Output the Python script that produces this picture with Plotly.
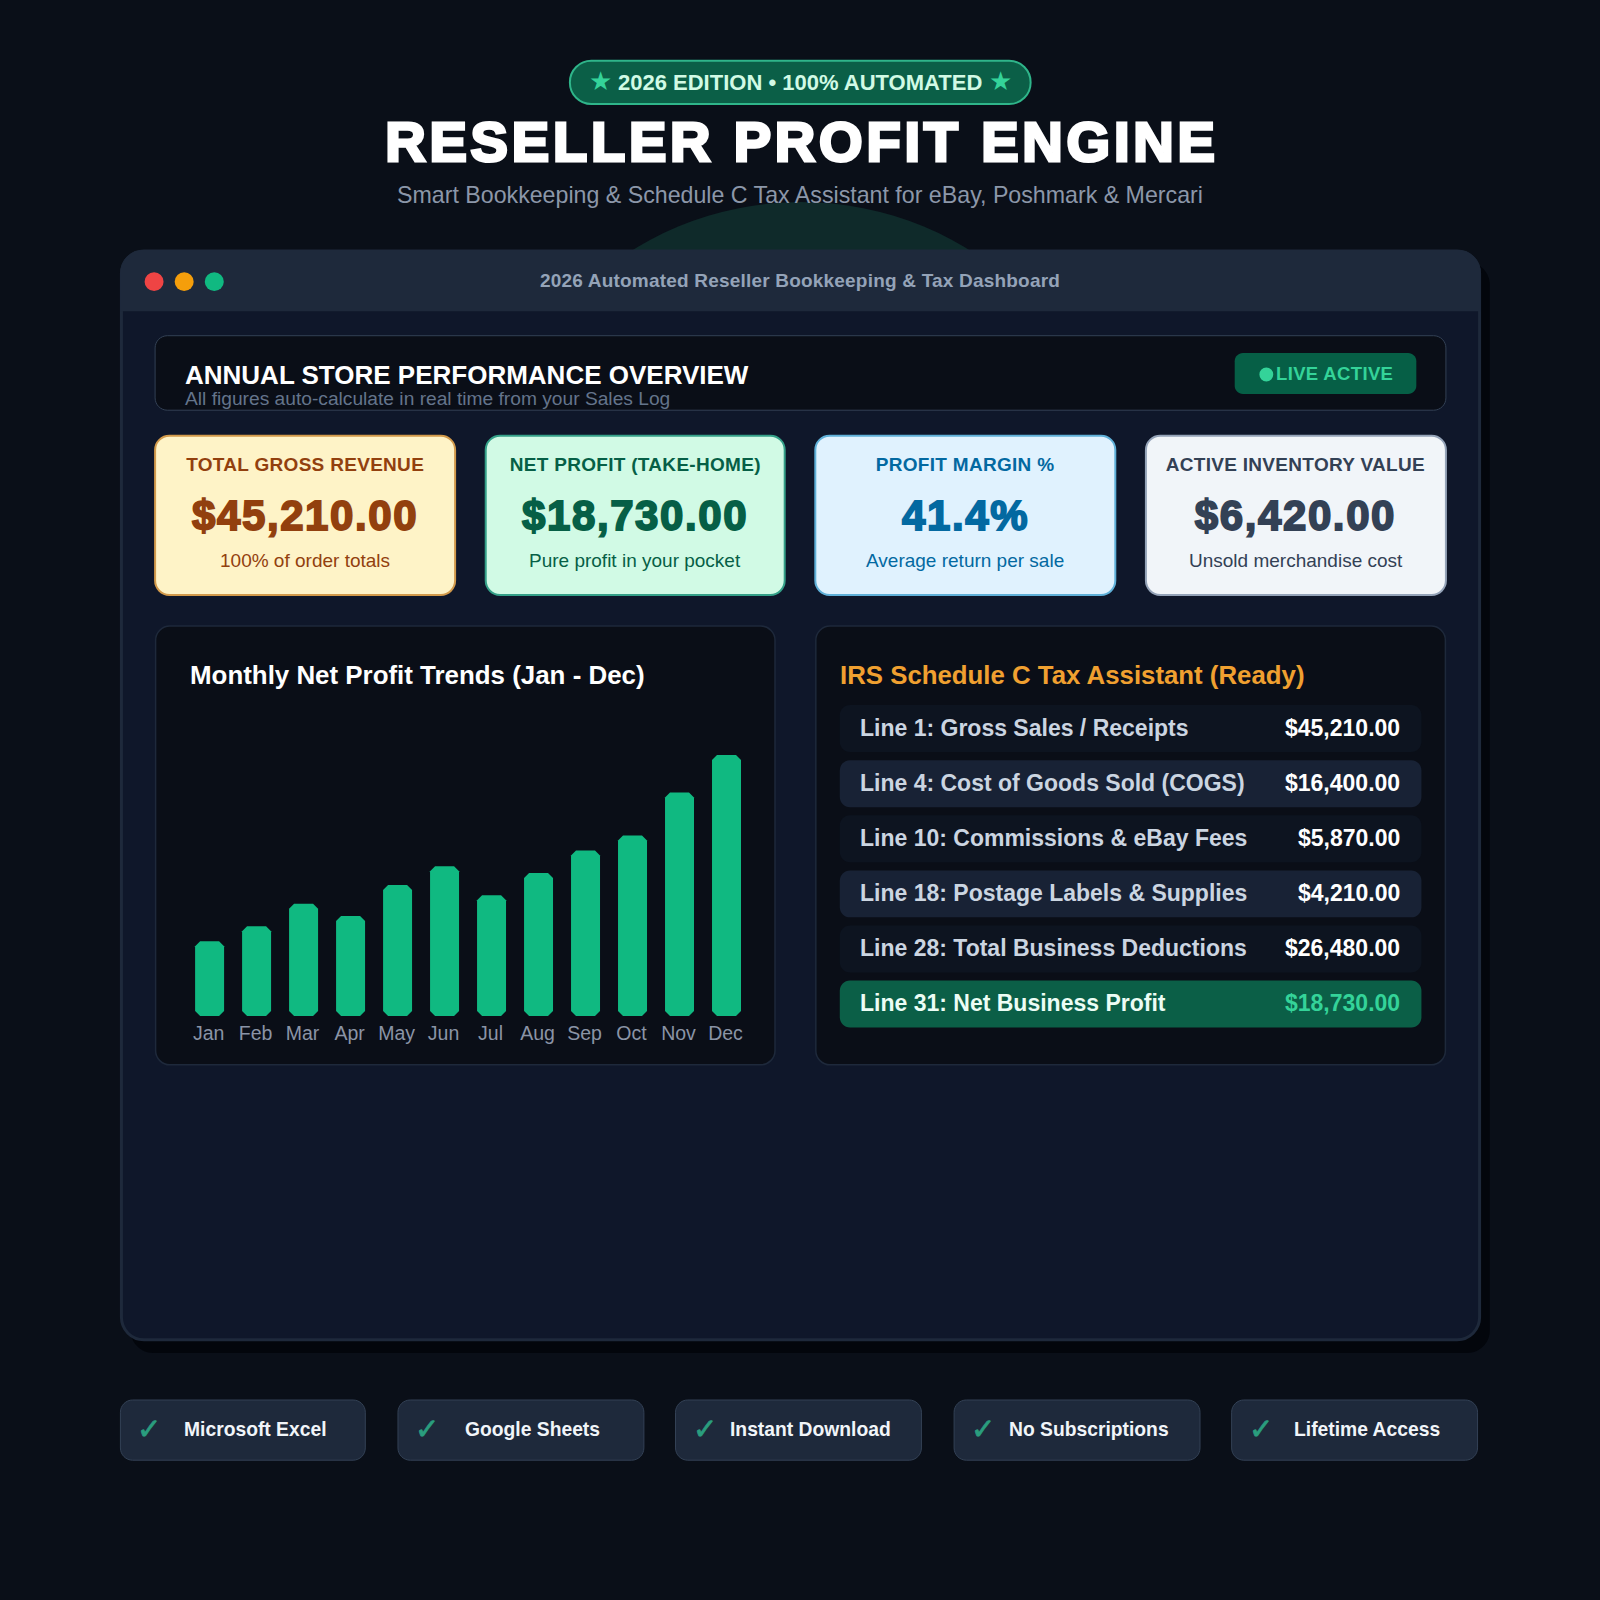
import json
import plotly.graph_objects as go

months = ["Jan", "Feb", "Mar", "Apr", "May", "Jun", "Jul", "Aug", "Sep", "Oct", "Nov", "Dec"]
monthly_profit = [800, 960, 1200, 1070, 1400, 1600, 1290, 1530, 1770, 1930, 2390, 2790]
kpi_labels = ["TOTAL GROSS REVENUE", "NET PROFIT (TAKE-HOME)", "PROFIT MARGIN %", "ACTIVE INVENTORY VALUE"]
kpi_values = ["$45,210.00", "$18,730.00", "41.4%", "$6,420.00"]
kpi_notes = ["100% of order totals", "Pure profit in your pocket", "Average return per sale", "Unsold merchandise cost"]
schedule_lines = ["Line 1: Gross Sales / Receipts", "Line 4: Cost of Goods Sold (COGS)",
                  "Line 10: Commissions & eBay Fees", "Line 18: Postage Labels & Supplies",
                  "Line 28: Total Business Deductions", "Line 31: Net Business Profit"]
schedule_amounts = ["$45,210.00", "$16,400.00", "$5,870.00", "$4,210.00", "$26,480.00", "$18,730.00"]
footer_items = ["Microsoft Excel", "Google Sheets", "Instant Download", "No Subscriptions", "Lifetime Access"]

W = 1600.0
S = 1600 / 1568          # layout below is measured on a 1568 grid
FONT = "Liberation Sans"

def px(v): return v * S / W
def py(v): return 1 - v * S / W

shapes, annos, fx = [], [], []
K = 0.4477

def rrect(x0, y0, x1, y1, r, fill, line=None, lw=1, top_only=False):
    rb = 0 if top_only else r
    k, kb = r * K, rb * K
    p = (f"M {px(x0+r)} {py(y0)} L {px(x1-r)} {py(y0)} C {px(x1-k)} {py(y0)} {px(x1)} {py(y0+k)} {px(x1)} {py(y0+r)} "
         f"L {px(x1)} {py(y1-rb)} C {px(x1)} {py(y1-kb)} {px(x1-kb)} {py(y1)} {px(x1-rb)} {py(y1)} "
         f"L {px(x0+rb)} {py(y1)} C {px(x0+kb)} {py(y1)} {px(x0)} {py(y1-kb)} {px(x0)} {py(y1-rb)} "
         f"L {px(x0)} {py(y0+r)} C {px(x0)} {py(y0+k)} {px(x0+k)} {py(y0)} {px(x0+r)} {py(y0)} Z")
    shapes.append(dict(type="path", path=p, xref="paper", yref="paper", fillcolor=fill, layer="below",
                       line=dict(color=line or fill, width=lw if line else 0)))

def circle(cx, cy, r, fill):
    shapes.append(dict(type="circle", xref="paper", yref="paper", x0=px(cx-r), x1=px(cx+r),
                       y0=py(cy+r), y1=py(cy-r), fillcolor=fill, layer="below", line=dict(width=0)))

def text(s, x, y, size, color, anchor="center", bold=False, ls=0, stroke=0, family=FONT):
    annos.append(dict(text=s, x=px(x), y=py(y), xref="paper", yref="paper", xanchor=anchor, yanchor="middle",
                      align=anchor, showarrow=False, borderpad=0, borderwidth=0,
                      font=dict(family=family, size=size, color=color, weight=700 if bold else 400)))
    fx.append([ls, stroke, color])

BG = "#0a0f18"
PANEL = "#0a0e17"

# glow behind window
circle(785, 511, 313, "#0f2a2a")
# window with hard shadow
rrect(128, 257, 1460, 1326, 22, "#03060c")
rrect(119, 246, 1450, 1313, 22, "#0f172a", "#1e293b", 3)
rrect(118, 245, 1451, 305, 22, "#1e293b", top_only=True)
for cx, col in zip([151, 180.5, 210], ["#ef4444", "#f59e0b", "#10b981"]):
    circle(cx, 276, 9.3, col)
text("2026 Automated Reseller Bookkeeping & Tax Dashboard", 784, 274.5, 19, "#94a3b8", bold=True, ls=0.2)

# header
rrect(558.5, 59.5, 1010, 102, 21, "#0b5f47", "#2fb58a", 2)
text("2026 EDITION • 100% AUTOMATED", 784, 80.5, 22, "#d1fae5", bold=True)
text("★", 588, 79.5, 26, "#34d399", family="DejaVu Sans")
text("★", 980, 79.5, 26, "#34d399", family="DejaVu Sans")
text("RESELLER PROFIT ENGINE", 785.5, 139, 56, "#ffffff", bold=True, ls=3.8, stroke=3)
text("Smart Bookkeeping & Schedule C Tax Assistant for eBay, Poshmark & Mercari", 784, 191, 23.2, "#8c97a9")

# overview band
rrect(152, 329, 1417, 402, 12, PANEL, "#334155", 1)
text("ANNUAL STORE PERFORMANCE OVERVIEW", 181, 367.5, 26, "#ffffff", "left", True)
text("All figures auto-calculate in real time from your Sales Log", 181, 391, 19.2, "#64748b", "left")
rrect(1210, 346, 1388, 386, 8, "#065f46")
circle(1241, 367, 6.8, "#34d399")
text("LIVE ACTIVE", 1250, 366, 18.5, "#34d399", "left", True, ls=0.35)

# KPI cards
card_x = [(152, 446), (476, 769), (799, 1093), (1123, 1417)]
card_fill = ["#fef3c7", "#d1fae5", "#e0f2fe", "#f1f5f9"]
card_line = ["#d29a4b", "#34a088", "#5fb0d8", "#94a3b8"]
card_text = ["#92400e", "#065f46", "#0369a1", "#334155"]
for i, (x0, x1) in enumerate(card_x):
    rrect(x0, 427, x1, 583, 14, card_fill[i], card_line[i], 2)
    c = (x0 + x1) / 2
    text(kpi_labels[i], c, 455.5, 19, card_text[i], bold=True, ls=0.3)
    text(kpi_values[i], c, 505.5, 42, card_text[i], bold=True, ls=1.6, stroke=1.8)
    text(kpi_notes[i], c, 549, 19, card_text[i])

# chart panel
rrect(152.5, 613.5, 759.5, 1043.5, 14, PANEL, "#1e293b", 1.5)
text("Monthly Net Profit Trends (Jan - Dec)", 186, 661.5, 25.9, "#ffffff", "left", True)

# schedule panel
rrect(799.5, 613.5, 1416.5, 1043.5, 14, PANEL, "#1e293b", 1.5)
text("IRS Schedule C Tax Assistant (Ready)", 823, 661.5, 25.8, "#f0a030", "left", True)
row_fill = ["#0d1420", "#182235", "#0d1420", "#182235", "#0d1420", "#0b5f47"]
for i in range(6):
    y0 = 691 + 54 * i
    rrect(823, y0, 1393, y0 + 46, 10, row_fill[i])
    last = i == 5
    text(schedule_lines[i], 843, y0 + 22, 23, "#ecfdf5" if last else "#cbd5e1", "left", True)
    text(schedule_amounts[i], 1372, y0 + 22, 23, "#34d399" if last else "#ffffff", "right", True)

# footer chips
chip_x = [(118, 358), (390, 631), (662, 903), (935, 1176), (1207, 1448)]
chip_text = [250, 522, 794, 1067, 1340]
chip_check = [146, 418, 691, 963, 1236]
for i, (x0, x1) in enumerate(chip_x):
    rrect(x0, 1372, x1, 1431, 12, "#1e293b", "#334155", 1)
    text("✓", chip_check[i], 1400, 29, "#2a9d7e", family="DejaVu Sans", bold=True, stroke=0.8)
    text(footer_items[i], chip_text[i], 1401, 19.3, "#f1f5f9", bold=True)

fig = go.Figure(go.Bar(x=months, y=monthly_profit, marker=dict(color="#10b981", line=dict(width=0)),
                       hoverinfo="skip"))
fig.update_layout(
    width=1600, height=1600, autosize=False, margin=dict(l=0, r=0, t=0, b=0),
    paper_bgcolor=BG, plot_bgcolor="rgba(0,0,0,0)", showlegend=False, bargap=0.383,
    shapes=shapes, annotations=annos, font=dict(family=FONT),
    xaxis=dict(domain=[186.1 / 1600, 750 / 1600], range=[-0.5, 11.5], type="category", showgrid=False,
               zeroline=False, showline=False, ticks="", ticklabelstandoff=3, ticklabelshift=-1,
               tickfont=dict(size=19.5, color="#8a94a6", family=FONT)),
    yaxis=dict(domain=[1 - 1016 / 1600, 1 - 716 / 1600], range=[0, 3207], visible=False),
)

post = """
document.body.style.margin='0';
var fx=%s;
document.querySelectorAll('.annotation').forEach(function(a){
  var i=+a.getAttribute('data-index'),f=fx[i],t=a.querySelector('text');
  if(!f||!t)return;
  if(f[0])t.style.letterSpacing=f[0]+'px';
  if(f[1]){t.style.stroke=f[2];t.style.strokeWidth=f[1]+'px';}
});
function roundBars(){
  document.querySelectorAll('.barlayer .point path').forEach(function(p){
    var n=(p.getAttribute('d')||'').match(/-?[0-9.]+/g);
    if(!n||n.length!=5)return;
    var x0=+n[0],y0=+n[1],y1=+n[2],x1=+n[3],r=5;
    p.style.shapeRendering='geometricPrecision';
    p.setAttribute('d','M'+(x0+r)+','+y1+'H'+(x1-r)+'L'+x1+','+(y1+r)+'V'+(y0-r)+'L'+(x1-r)+','+y0+
      'H'+(x0+r)+'L'+x0+','+(y0-r)+'V'+(y1+r)+'Z');
  });
}
roundBars();
""" % json.dumps(fx)
fig.write_html("out.html", post_script=post, config={"displayModeBar": False})
